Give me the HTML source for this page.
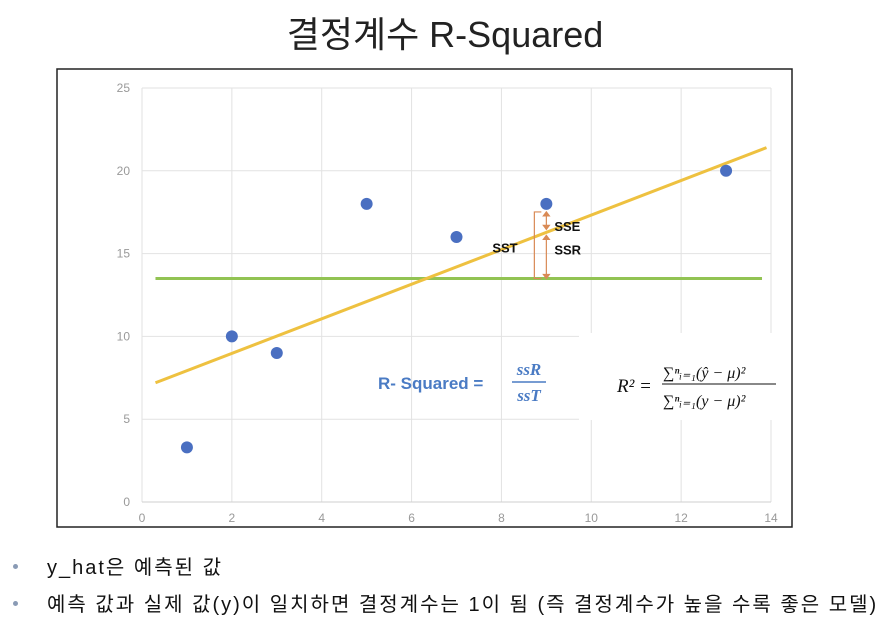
<!DOCTYPE html>
<html><head><meta charset="utf-8"><style>
body{margin:0;width:890px;height:621px;background:#fff;position:relative;overflow:hidden;font-family:"Liberation Sans","Noto Sans CJK KR",sans-serif}
.title{position:absolute;left:0;width:890px;top:6px;text-align:center;font-size:36px;color:#222}
.bul{position:absolute;left:47px;font-size:20px;color:#111;letter-spacing:2px;white-space:nowrap}
.dot{position:absolute;left:13px;width:5px;height:5px;border-radius:50%;background:#8a9bb5}
</style></head><body>
<div class="title">결정계수 R-Squared</div>
<svg width="890" height="621" style="position:absolute;left:0;top:0">
<rect x="57" y="69" width="735" height="458" fill="#fff" stroke="#222" stroke-width="1.5"/>
<g id="grid"></g><g id="ticks"></g><g id="lines"></g><g id="pts"></g>
<rect x="579" y="333" width="211" height="87" fill="#fff"/>
<g id="ann"></g>
<text x="378" y="389" font-size="17" font-weight="bold" fill="#4a7bc4" font-family="Liberation Sans,sans-serif">R- Squared  =</text>
<text x="529" y="375" font-size="17" font-weight="bold" font-style="italic" fill="#4a7bc4" text-anchor="middle" font-family="Liberation Serif,serif">ssR</text>
<line x1="512" y1="382" x2="546" y2="382" stroke="#4a7bc4" stroke-width="1.5"/>
<text x="529" y="401" font-size="17" font-weight="bold" font-style="italic" fill="#4a7bc4" text-anchor="middle" font-family="Liberation Serif,serif">ssT</text>
<g font-family="Liberation Serif,serif" font-style="italic" fill="#111">
<text x="617" y="392" font-size="19">R²  =</text>
<text x="663" y="378" font-size="16">∑ⁿᵢ₌₁(ŷ − μ)²</text>
<line x1="662" y1="384" x2="776" y2="384" stroke="#111" stroke-width="1"/>
<text x="663" y="406" font-size="16">∑ⁿᵢ₌₁(y − μ)²</text>
</g>
</svg>
<div class="dot" style="top:564px"></div>
<div class="dot" style="top:601px"></div>
<div class="bul" style="top:551px">y_hat은 예측된 값</div>
<div class="bul" style="top:588px">예측 값과 실제 값(y)이 일치하면 결정계수는 1이 됨 (즉 결정계수가 높을 수록 좋은 모델)</div>
<script>
const xs=[1,2,3,5,7,9,13];
const ys=[3.3,10,9,18,16,18,20];
const xTicks=[0,2,4,6,8,10,12,14];
const yTicks=[0,5,10,15,20,25];
const regLine=[[0.3,7.2],[13.9,21.4]];
const meanY=13.5;
const meanRange=[0.3,13.8];
const NS='http://www.w3.org/2000/svg';
const X=v=>142+v*(771-142)/14, Y=v=>502-v*(502-88)/25;
function mk(p,t,a){const e=document.createElementNS(NS,t);for(const k in a)e.setAttribute(k,a[k]);document.getElementById(p).appendChild(e);return e;}
xTicks.forEach(v=>{
 const g=mk('grid','line',{x1:X(v),x2:X(v),y1:Y(0),y2:Y(25),stroke:'#e2e2e2'});
 
 
 const t=mk('ticks','text',{x:X(v),y:522,'text-anchor':'middle','font-size':12,fill:'#999'});t.textContent=v;
 
 
});
yTicks.forEach(v=>{
 const g=mk('grid','line',{x1:X(0),x2:X(14),y1:Y(v),y2:Y(v),stroke:v?'#e2e2e2':'#cfcfcf'});
 
 
 const t=mk('ticks','text',{x:130,y:Y(v)+4,'text-anchor':'end','font-size':12,fill:'#999'});t.textContent=v;
 
 
});
const m=mk('lines','line',{x1:X(meanRange[0]),x2:X(meanRange[1]),y1:Y(meanY),y2:Y(meanY),stroke:'#92c353','stroke-width':3});


const r=mk('lines','line',{x1:X(regLine[0][0]),y1:Y(regLine[0][1]),x2:X(regLine[1][0]),y2:Y(regLine[1][1]),stroke:'#eec140','stroke-width':3});


xs.forEach((x,i)=>{
 const c=mk('pts','circle',{cx:X(x),cy:Y(ys[i]),r:6,fill:'#4a6fc1'});
 
 
});
const ax=X(9),yp=Y(18)+8,yh=Y(regLine[0][1]+(9-regLine[0][0])*(regLine[1][1]-regLine[0][1])/(regLine[1][0]-regLine[0][0])),ym=Y(meanY);
const ann=document.getElementById('ann');
ann.innerHTML=`<g stroke="#d98a55" stroke-width="1.2" fill="#d98a55">
<path d="M${ax-5} ${yp} H${ax-12} V${ym} H${ax-5}" fill="none"/>
<line x1="${ax}" y1="${yp}" x2="${ax}" y2="${yh-3}"/><line x1="${ax}" y1="${yh+3}" x2="${ax}" y2="${ym}"/>
<path d="M${ax-3} ${yp+4} L${ax} ${yp} L${ax+3} ${yp+4}Z"/><path d="M${ax-3} ${yh-7} L${ax} ${yh-3} L${ax+3} ${yh-7}Z"/>
<path d="M${ax-3} ${yh+7} L${ax} ${yh+3} L${ax+3} ${yh+7}Z"/><path d="M${ax-3} ${ym-4} L${ax} ${ym} L${ax+3} ${ym-4}Z"/></g>
<g font-size="13" font-weight="bold" fill="#111" font-family="Liberation Sans,sans-serif">
<text x="${ax+8}" y="${yp+19}">SSE</text>
<text x="${ax+8}" y="${yh+22}">SSR</text>
<text x="${ax-54}" y="${yh+20}">SST</text></g>`;
</script>
</body></html>
